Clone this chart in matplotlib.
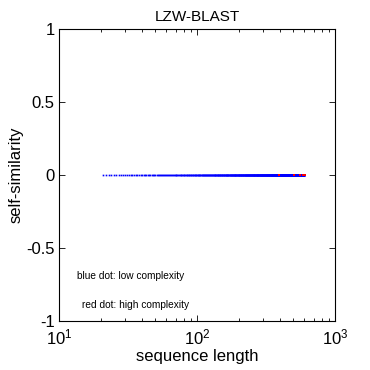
import numpy as np
import matplotlib
matplotlib.use("Agg")
import matplotlib.pyplot as plt

plt.rcParams['font.family'] = ['Liberation Sans', 'DejaVu Sans']
plt.rcParams['mathtext.fontset'] = 'custom'
plt.rcParams['mathtext.rm'] = 'Liberation Sans'

# sequence lengths tested (low complexity = blue, high complexity = red)
blue_len = np.arange(21, 601)
blue_sim = np.zeros(len(blue_len))
red_len = [392, 505, 557, 586, 606]
red_sim = [0, 0, 0, 0, 0]

fig = plt.figure(figsize=(3.7, 3.7), dpi=100)
ax = fig.add_axes([59/370, 1 - 321/370, 276/370, 292/370])

ax.plot(blue_len, blue_sim, 's', color='blue', markersize=1.2,
        markeredgewidth=0, antialiased=False)
ax.plot(red_len, red_sim, 's', color='red', markersize=1.5,
        markeredgewidth=0, antialiased=False)

ax.set_xscale('log')
ax.set_xlim(10, 1000)
ax.set_ylim(-1, 1)
ax.set_yticks([-1, -0.5, 0, 0.5, 1])
ax.set_yticklabels(['-1', '-0.5', '0', '0.5', '1'])
ax.tick_params(direction='in', which='both', top=True, right=True,
               labelsize=12, width=0.6, pad=3)
ax.tick_params(axis='x', which='major', pad=5)
ax.tick_params(which='major', length=4)
ax.tick_params(which='minor', length=2.5)
for s in ax.spines.values():
    s.set_linewidth(0.8)

ax.text(13.6, -0.69, 'blue dot: low complexity', fontsize=7.3, va='center')
ax.text(14.6, -0.89, 'red dot: high complexity', fontsize=7.3, va='center')

ax.set_title('LZW-BLAST', fontsize=11, pad=6)
ax.set_xlabel('sequence length', fontsize=12, labelpad=1)
ax.set_ylabel('self-similarity', fontsize=12, labelpad=2)

fig.savefig('out.png', dpi=100)
